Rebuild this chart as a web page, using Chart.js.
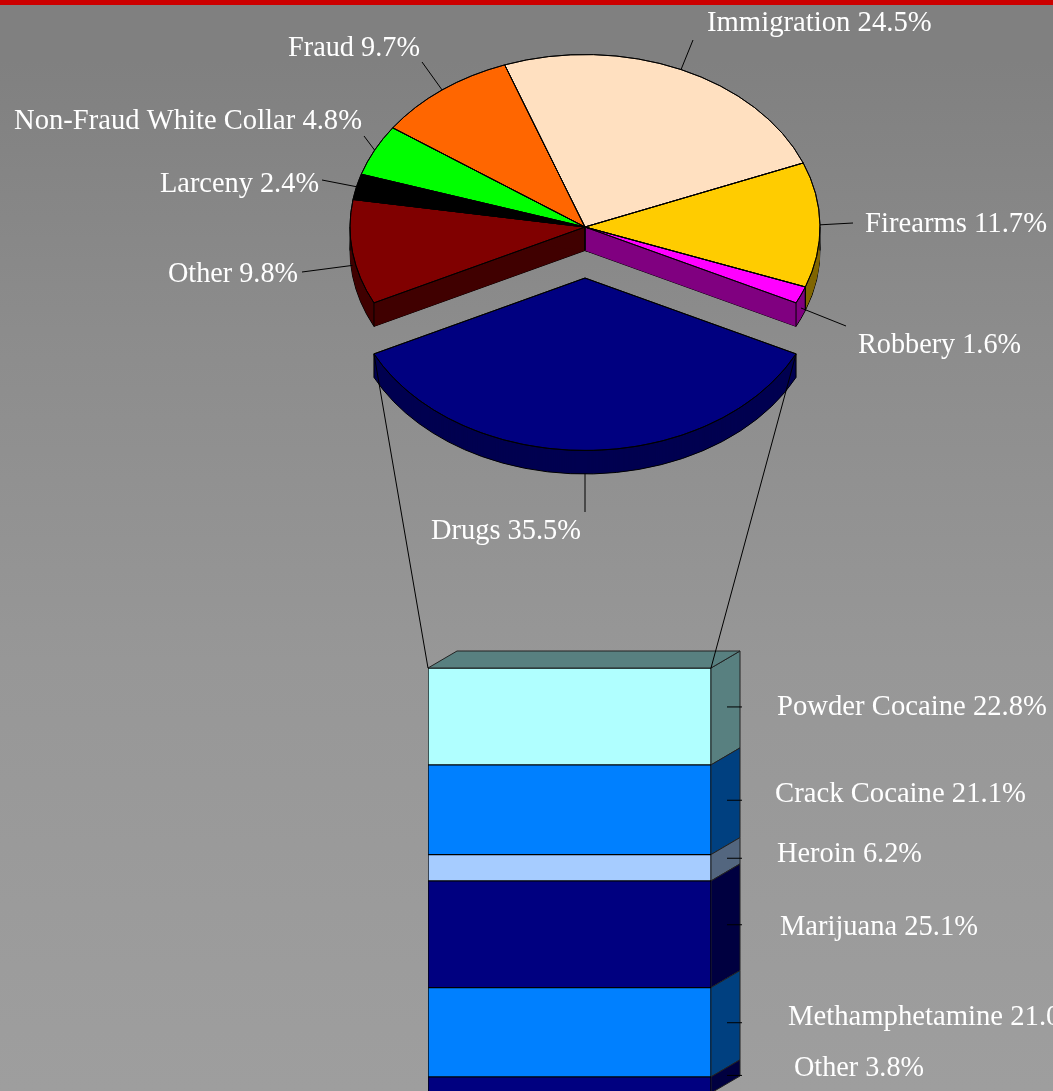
<!DOCTYPE html>
<html>
<head>
<meta charset="utf-8">
<style>
html,body{margin:0;padding:0;width:1053px;height:1091px;overflow:hidden;}
body{position:relative;background:linear-gradient(to bottom,#808080 0px,#808080 60px,#8c8c8c 330px,#979797 660px,#9e9e9e 1091px);}
#band{position:absolute;left:0;top:0;width:1053px;height:5px;background:#cc0000;}
canvas{position:absolute;left:0;top:0;}
</style>
<script src="https://cdn.jsdelivr.net/npm/chart.js@4"></script>
</head>
<body>
<div id="band"></div>
<canvas id="pie" width="1053" height="1100"></canvas>
<canvas id="bar" width="1053" height="1100"></canvas>
<script>
const pieLabels = ['Drugs','Other','Larceny','Non-Fraud White Collar','Fraud','Immigration','Firearms','Robbery'];
const pieValues = [35.5,9.8,2.4,4.8,9.7,24.5,11.7,1.6];
const pieColors = ['#000080','#800000','#000000','#00ff00','#ff6600','#ffe0c0','#ffcc00','#ff00ff'];
const pieWalls  = ['#000050','#400000','#000000','#008000','#803300','#807060','#806600','#800080'];
const pieLabelPos = [[431,539],[168,282],[160,192],[14,129],[288,56],[707,31],[865,232],[858,353]];
const pieLabelWidth = [150,130,159,348,132,225,182,163];
const pieLeaderEnd = [[585,512],[302,272],[322,180],[364,136],[422,62],[693,40],[853,223],[846,326]];
const pieLeaderDrop = [23,13,0,0,0,0,0,13];

const barLabels = ['Powder Cocaine','Crack Cocaine','Heroin','Marijuana','Methamphetamine','Other'];
const barValues = [22.8,21.1,6.2,25.1,21.0,3.8];
const barColors = ['#b0ffff','#0080ff','#a6ccff','#000080','#0080ff','#000080'];
const barWalls  = ['#588080','#004080','#53667f','#000040','#004080','#000040'];
const barLabelPos = [[777,715],[775,802],[777,862],[780,935],[788,1025],[794,1076]];
const barLabelWidth = [270,251,145,198,340,130];

const LABEL_FONT = '28.7px "Liberation Serif"';
const RX = 235, RY = 172.5, CY = 227, DEPTH = 23.5, EXPLODE = 51;
const K = RY / RX;
const BAR_DX = 29, BAR_DY = 17;

let baseY = 0;
const ty = y => CY + (y - baseY) * K;

function drawText(ctx, text, x, y, w) {
  ctx.save();
  ctx.font = LABEL_FONT;
  ctx.fillStyle = '#ffffff';
  ctx.textAlign = 'left';
  ctx.textBaseline = 'alphabetic';
  ctx.fillText(text, x, y, w);
  ctx.restore();
}
function line(ctx, x1, y1, x2, y2) {
  ctx.beginPath(); ctx.moveTo(x1, y1); ctx.lineTo(x2, y2); ctx.stroke();
}
function sectorPath(ctx, arc, d) {
  const y = ty(arc.y) + d;
  ctx.beginPath();
  ctx.moveTo(arc.x, y);
  ctx.ellipse(arc.x, y, arc.outerRadius, arc.outerRadius * K, 0, arc.startAngle, arc.endAngle);
  ctx.closePath();
}
function hasFront(arc) {
  for (let a = arc.startAngle; a <= arc.endAngle; a += 0.01) {
    if (Math.sin(a) > 0) return true;
  }
  return false;
}
function cutWall(ctx, arc, a) {
  const y0 = ty(arc.y);
  const x = arc.x + Math.cos(a) * arc.outerRadius;
  const y = y0 + Math.sin(a) * arc.outerRadius * K;
  ctx.beginPath();
  ctx.moveTo(arc.x, y0); ctx.lineTo(x, y);
  ctx.lineTo(x, y + DEPTH); ctx.lineTo(arc.x, y0 + DEPTH);
  ctx.closePath();
  ctx.fill();
}

const pie3d = {
  id: 'pie3d',
  afterDatasetsUpdate(chart) {
    const arcs = chart.getDatasetMeta(0).data;
    baseY = arcs[1].y;
    arcs[0].y = baseY + EXPLODE / K;
  },
  beforeDatasetsDraw(chart) {
    const ctx = chart.ctx;
    const arcs = chart.getDatasetMeta(0).data;
    ctx.save();
    ctx.strokeStyle = '#000';
    ctx.lineWidth = 1;
    arcs.forEach((arc, i) => {
      if (!hasFront(arc)) return;
      ctx.fillStyle = pieWalls[i];
      sectorPath(ctx, arc, DEPTH); ctx.fill(); ctx.stroke();
      for (let d = DEPTH - 1; d >= 1; d--) { sectorPath(ctx, arc, d); ctx.fill(); }
      cutWall(ctx, arc, arc.startAngle);
      cutWall(ctx, arc, arc.endAngle);
    });
    arcs.forEach(arc => {
      if (!hasFront(arc)) return;
      const y0 = ty(arc.y);
      const edges = [arc.startAngle, arc.endAngle];
      for (let m = 0; m <= 4; m++) {
        const a = m * Math.PI;
        if (a > arc.startAngle && a < arc.endAngle) edges.push(a);
      }
      edges.forEach(a => {
        const x = arc.x + Math.cos(a) * arc.outerRadius;
        const y = y0 + Math.sin(a) * arc.outerRadius * K;
        line(ctx, x, y, x, y + DEPTH);
      });
      line(ctx, arc.x, y0, arc.x, y0 + DEPTH);
    });
    ctx.restore();
    ctx.save();
    ctx.translate(0, CY);
    ctx.scale(1, K);
    ctx.translate(0, -baseY);
  },
  afterDatasetsDraw(chart) {
    const ctx = chart.ctx;
    ctx.restore();
    const arcs = chart.getDatasetMeta(0).data;
    ctx.save();
    ctx.strokeStyle = '#000';
    ctx.lineWidth = 1;
    arcs.forEach(arc => { sectorPath(ctx, arc, 0); ctx.stroke(); });
    arcs.forEach((arc, i) => {
      const a = (arc.startAngle + arc.endAngle) / 2;
      const x = arc.x + Math.cos(a) * arc.outerRadius;
      const y = ty(arc.y) + Math.sin(a) * arc.outerRadius * K + pieLeaderDrop[i];
      line(ctx, x, y, pieLeaderEnd[i][0], pieLeaderEnd[i][1]);
      drawText(ctx, pieLabels[i] + ' ' + pieValues[i].toFixed(1) + '%', pieLabelPos[i][0], pieLabelPos[i][1], pieLabelWidth[i]);
    });
    ctx.restore();
  }
};

const pieChart = new Chart(document.getElementById('pie'), {
  type: 'pie',
  data: {
    labels: pieLabels,
    datasets: [{
      data: pieValues,
      backgroundColor: pieColors,
      borderColor: '#000000',
      borderWidth: 1,
      clip: false
    }]
  },
  options: {
    responsive: false,
    animation: false,
    events: [],
    rotation: 116.1,
    radius: RX,
    layout: { padding: { left: 117, right: 0, top: 0, bottom: 0 } },
    plugins: { legend: { display: false }, tooltip: { enabled: false } }
  },
  plugins: [pie3d]
});

const bar3d = {
  id: 'bar3d',
  beforeDatasetsDraw(chart) {
    const ctx = chart.ctx;
    ctx.save();
    ctx.strokeStyle = '#222';
    ctx.lineWidth = 1;
    barValues.forEach((v, i) => {
      const b = chart.getDatasetMeta(i).data[0];
      const r = b.x + b.width / 2, l = b.x - b.width / 2;
      const top = Math.min(b.y, b.base), bot = Math.max(b.y, b.base);
      ctx.fillStyle = barWalls[i];
      ctx.beginPath();
      ctx.moveTo(r, top); ctx.lineTo(r + BAR_DX, top - BAR_DY);
      ctx.lineTo(r + BAR_DX, bot - BAR_DY); ctx.lineTo(r, bot);
      ctx.closePath(); ctx.fill(); ctx.stroke();
      if (i === 0) {
        ctx.beginPath();
        ctx.moveTo(l, top); ctx.lineTo(l + BAR_DX, top - BAR_DY);
        ctx.lineTo(r + BAR_DX, top - BAR_DY); ctx.lineTo(r, top);
        ctx.closePath(); ctx.fill(); ctx.stroke();
      }
    });
    ctx.restore();
  },
  afterDatasetsDraw(chart) {
    const ctx = chart.ctx;
    ctx.save();
    ctx.strokeStyle = '#000';
    ctx.lineWidth = 1;
    barValues.forEach((v, i) => {
      const b = chart.getDatasetMeta(i).data[0];
      const r = b.x + b.width / 2;
      const mid = (b.y + b.base) / 2 - 9.5;
      line(ctx, r + 16, mid, r + BAR_DX + 2, mid);
      drawText(ctx, barLabels[i] + ' ' + v.toFixed(1) + '%', barLabelPos[i][0], barLabelPos[i][1], barLabelWidth[i]);
    });
    const drugs = pieChart.getDatasetMeta(0).data[0];
    const first = chart.getDatasetMeta(0).data[0];
    const yTop = Math.min(first.y, first.base);
    const corner = a => [drugs.x + Math.cos(a) * drugs.outerRadius, ty(drugs.y) + Math.sin(a) * drugs.outerRadius * K];
    const cs = corner(drugs.startAngle), ce = corner(drugs.endAngle);
    line(ctx, cs[0], cs[1], first.x + first.width / 2, yTop);
    line(ctx, ce[0], ce[1], first.x - first.width / 2, yTop);
    ctx.restore();
  }
};

new Chart(document.getElementById('bar'), {
  type: 'bar',
  data: {
    labels: ['Drugs'],
    datasets: barValues.map((v, i) => ({
      label: barLabels[i],
      data: [v],
      backgroundColor: barColors[i],
      borderColor: '#000000',
      borderWidth: 1,
      borderSkipped: false,
      barPercentage: 1,
      categoryPercentage: 1
    }))
  },
  options: {
    responsive: false,
    animation: false,
    events: [],
    layout: { padding: { left: 428, right: 342, top: 668, bottom: 7 } },
    scales: {
      x: { stacked: true, display: false },
      y: { stacked: true, display: false, min: 0, max: 100, reverse: true }
    },
    plugins: { legend: { display: false }, tooltip: { enabled: false } }
  },
  plugins: [bar3d]
});
</script>
</body>
</html>
